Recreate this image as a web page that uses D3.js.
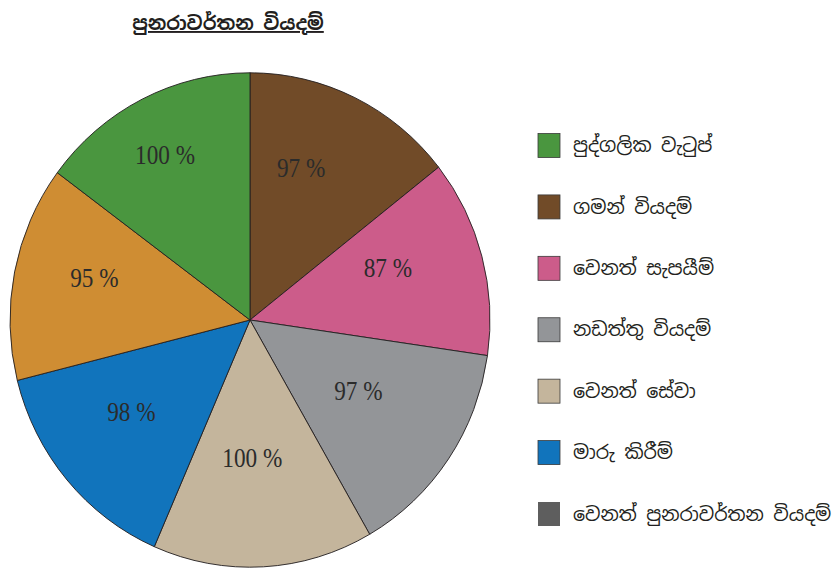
<!DOCTYPE html>
<html>
<head>
<meta charset="utf-8">
<script src="https://cdn.jsdelivr.net/npm/d3@7"></script>
<style>
  body { margin: 0; background: #fff; }
  svg { display: block; }
</style>
</head>
<body>
<div id="container"></div>
<script>
// slices, clockwise from 12 o'clock
var sliceValues = [97, 87, 97, 100, 98, 95, 100];
var sliceLabels = ["97 %", "87 %", "97 %", "100 %", "98 %", "95 %", "100 %"];
var sliceColors = ["#714b28", "#cc5c8a", "#939598", "#c4b59c", "#1174bc", "#cf8d33", "#4a963f"];

// legend (as printed, top to bottom)
var legendLabels = ["පුද්ගලික වැටුප්", "ගමන් වියදම්", "වෙනත් සැපයීම්", "නඩත්තු වියදම්",
                    "වෙනත් සේවා", "මාරු කිරීම්", "වෙනත් පුනරාවර්තන වියදම්"];
var legendColors = ["#4a963f", "#714b28", "#cc5c8a", "#939598", "#c4b59c", "#1174bc", "#5e5e5e"];

var titleText = "පුනරාවර්තන වියදම්";

var width = 836, height = 570;
var cx = 250, cy = 320, radius = 240, squash = 1.03;
// label placement: distance from centre and angle nudge (degrees) per slice
var labelRadius = [157, 147, 128, 134, 148, 161, 182];
var labelShift = [-6.9, -5.3, -2, 2.2, 3.6, 3.7, -1.1];

var sinhala = "'Noto Sans Sinhala', 'Iskoola Pota', 'Noto Sans', sans-serif";

var svg = d3.select("#container")
  .append("svg")
    .attr("width", width)
    .attr("height", height);

// title
svg.append("text")
    .attr("x", 228)
    .attr("y", 30)
    .attr("text-anchor", "middle")
    .style("font-family", sinhala)
    .style("font-size", "19px")
    .style("font-weight", "bold")
    .style("text-decoration", "underline")
    .style("fill", "#231f20")
    .text(titleText);

var pie = d3.pie().sort(null).value(d => d);
var arcs = pie(sliceValues);
var arc = d3.arc().innerRadius(0).outerRadius(radius);

var g = svg.append("g")
    .attr("transform", "translate(" + cx + "," + cy + ") scale(1," + squash + ")");

g.selectAll("path")
  .data(arcs)
  .enter()
  .append("path")
    .attr("d", arc)
    .style("fill", (d, i) => sliceColors[i])
    .style("stroke", "#231f20")
    .style("stroke-width", 0.9)
    .style("stroke-linejoin", "round");

function labelPos(d, i) {
  var a = (d.startAngle + d.endAngle) / 2 + labelShift[i] * Math.PI / 180;
  return [cx + labelRadius[i] * Math.sin(a), cy - labelRadius[i] * squash * Math.cos(a)];
}

svg.append("g")
  .selectAll("text")
  .data(arcs)
  .enter()
  .append("text")
    .attr("transform", (d, i) => "translate(" + labelPos(d, i) + ") scale(0.86,1)")
    .attr("dy", "0.35em")
    .attr("text-anchor", "middle")
    .style("font-family", "'Liberation Serif', 'Times New Roman', serif")
    .style("font-size", "27px")
    .style("fill", "#2b2b2b")
    .text((d, i) => sliceLabels[i]);

// legend
var ly = d3.scalePoint()
    .domain(d3.range(legendLabels.length))
    .range([145.5, 514]);

var leg = svg.append("g")
  .selectAll("g")
  .data(legendLabels)
  .enter()
  .append("g")
    .attr("transform", (d, i) => "translate(538," + ly(i) + ")");

leg.append("rect")
    .attr("x", 0)
    .attr("y", -12)
    .attr("width", 22)
    .attr("height", 24)
    .style("fill", (d, i) => legendColors[i])
    .style("stroke", (d, i) => i == legendLabels.length - 1 ? "none" : "#3a3a3a")
    .style("stroke-width", 0.8);

leg.append("text")
    .attr("x", 35)
    .attr("y", 0)
    .attr("dy", "0.35em")
    .style("font-family", sinhala)
    .style("font-size", "19px")
    .style("fill", "#231f20")
    .text(d => d);
</script>
</body>
</html>
